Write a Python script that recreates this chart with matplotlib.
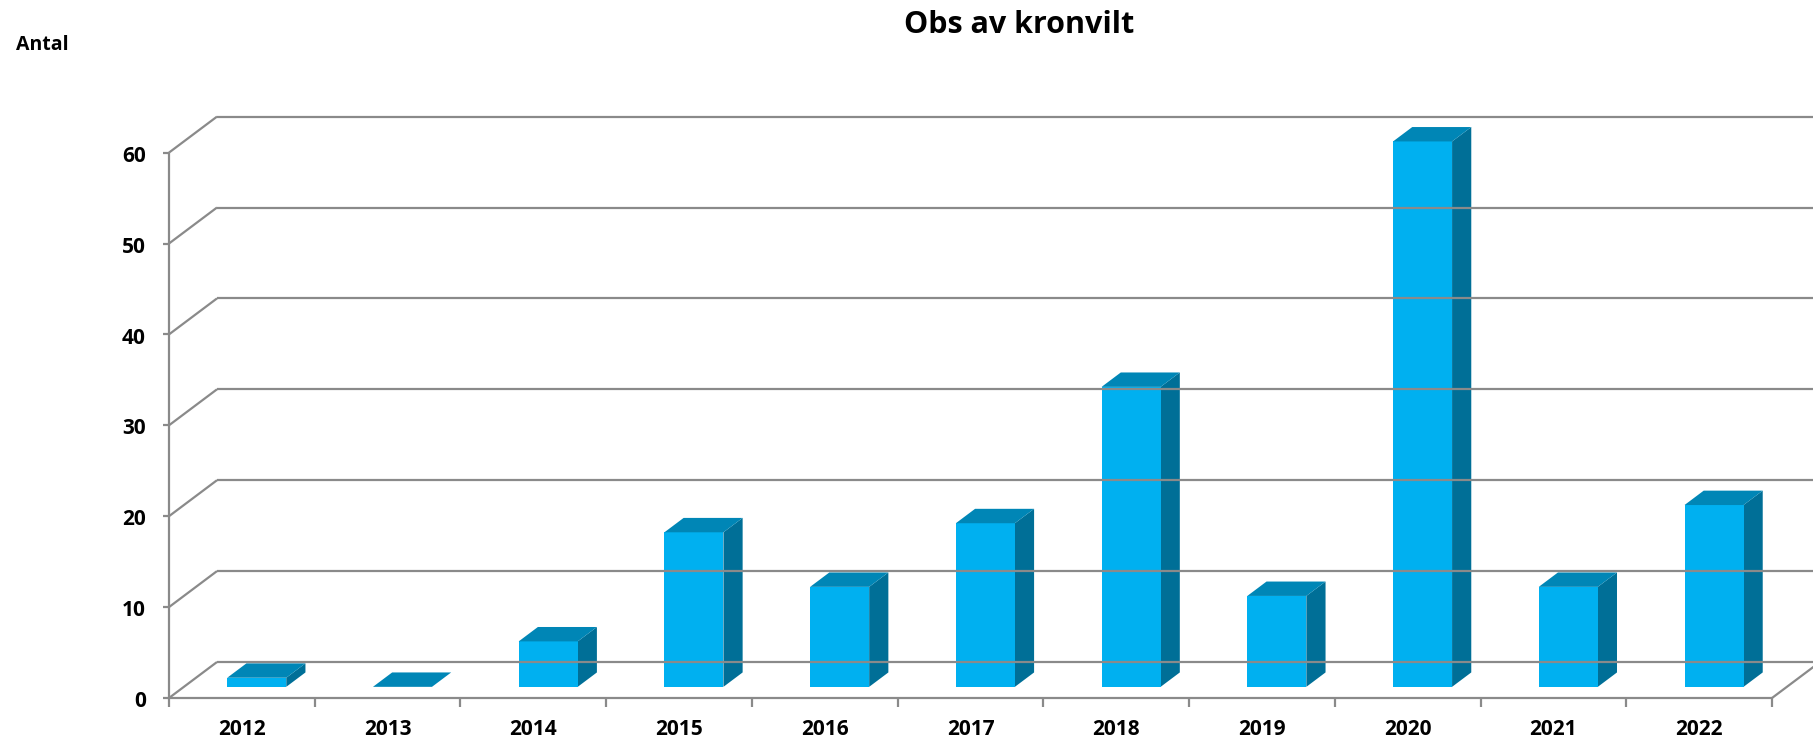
import matplotlib
matplotlib.use("Agg")
import matplotlib.pyplot as plt
from matplotlib.patches import Polygon

# ---- data ----
years = ["2012", "2013", "2014", "2015", "2016", "2017", "2018", "2019", "2020", "2021", "2022"]
counts = [1, 0, 5, 17, 11, 18, 33, 10, 60, 11, 20]
y_ticks = [0, 10, 20, 30, 40, 50, 60]
title = "Obs av kronvilt"
y_label = "Antal"

# ---- style / layout ----
FRONT = "#00B0F0"
TOP = "#0086B6"
SIDE = "#006F97"
GRID = "#8A8A8A"
FONT = ["Open Sans", "DejaVu Sans"]

W, H = 1813, 744
fig = plt.figure(figsize=(W / 100, H / 100), dpi=100)
ax = fig.add_axes([0, 0, 1, 1])
ax.set_axis_off()

# pixel geometry of the plot box
x0_px, x1_px = 169.0, 1772.0
y0_px, ymax_px = 698.0, 152.6   # from top
n = len(years)
ppc = (x1_px - x0_px) / n          # pixels per category
ppv = (y0_px - ymax_px) / 60.0     # pixels per value unit
ax.set_xlim(-x0_px / ppc, (W - x0_px) / ppc)
ax.set_ylim(-(H - y0_px) / ppv, y0_px / ppv)

DX = 48.0 / ppc   # depth offset in category units
DY = 36.0 / ppv   # depth offset in value units


def P(x, y, d):
    return (x + d * DX, y + d * DY)


lw = 1.6
# left wall diagonals at each gridline
for v in y_ticks:
    a = P(0, v, 0)
    b = P(0, v, 1)
    ax.plot([a[0], b[0]], [a[1], b[1]], color=GRID, lw=lw, solid_capstyle="butt")
    # back wall gridlines
    c = P(n, v, 1)
    ax.plot([b[0], c[0]], [b[1], c[1]], color=GRID, lw=lw, solid_capstyle="butt")
    # y tick
    ax.plot([-0.04, 0], [v, v], color=GRID, lw=lw, solid_capstyle="butt")
    ax.text(-0.16, v - 0.4, str(v), ha="right", va="center", fontsize=15,
            fontweight="bold", family=FONT)

# front vertical axis
ax.plot([0, 0], [0, 60], color=GRID, lw=lw, solid_capstyle="butt")
# floor front edge and right edge
ax.plot([0, n], [0, 0], color=GRID, lw=lw, solid_capstyle="butt")
a = P(n, 0, 0)
b = P(n, 0, 1)
ax.plot([a[0], b[0]], [a[1], b[1]], color=GRID, lw=lw, solid_capstyle="butt")
# category ticks
for i in range(n + 1):
    ax.plot([i, i], [0, -1.0], color=GRID, lw=lw, solid_capstyle="butt")

# bars
bw = 0.405
d0, d1 = 0.31, 0.71
for i, (yr, v) in enumerate(zip(years, counts)):
    xl = i + 0.5 - bw / 2
    xr = i + 0.5 + bw / 2
    if v > 0:
        side = [P(xr, 0, d0), P(xr, 0, d1), P(xr, v, d1), P(xr, v, d0)]
        ax.add_patch(Polygon(side, closed=True, facecolor=SIDE, edgecolor="none"))
        front = [P(xl, 0, d0), P(xr, 0, d0), P(xr, v, d0), P(xl, v, d0)]
        ax.add_patch(Polygon(front, closed=True, facecolor=FRONT, edgecolor="none"))
    top = [P(xl, v, d0), P(xr, v, d0), P(xr, v, d1), P(xl, v, d1)]
    ax.add_patch(Polygon(top, closed=True, facecolor=TOP, edgecolor="none"))
    ax.text(i + 0.5, -3.45, yr, ha="center", va="center", fontsize=15,
            fontweight="bold", family=FONT)

# texts
fig.text(1019 / W, 1 - 25 / H, title, ha="center", va="center", fontsize=22,
         fontweight="bold", family=FONT)
fig.text(16 / W, 1 - 45 / H, y_label, ha="left", va="center", fontsize=14,
         fontweight="bold", family=FONT)

fig.savefig("out.png", dpi=100)
